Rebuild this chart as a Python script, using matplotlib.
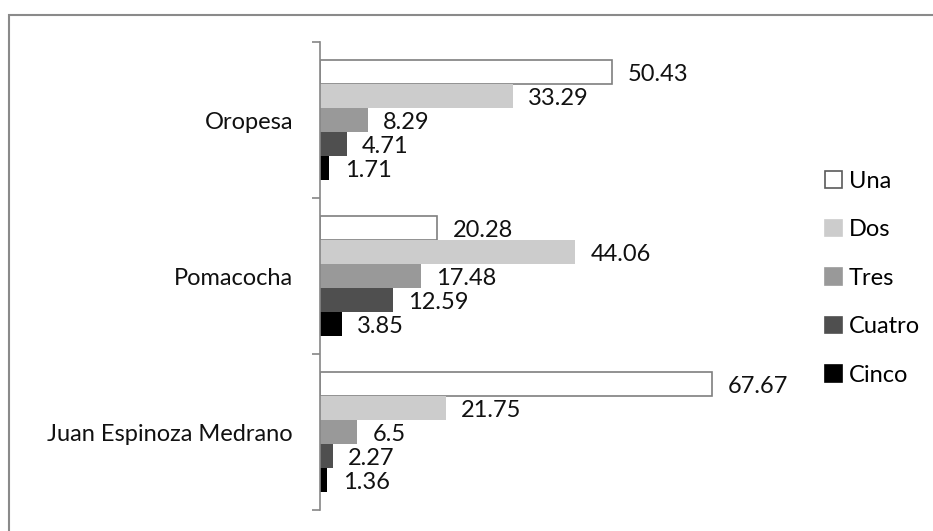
import matplotlib
matplotlib.use('Agg')
import matplotlib.pyplot as plt
from matplotlib.patches import Rectangle, Patch
import numpy as np

plt.rcParams['font.family'] = ['Lato', 'DejaVu Sans']

categories = ['Oropesa', 'Pomacocha', 'Juan Espinoza Medrano']
series = ['Una', 'Dos', 'Tres', 'Cuatro', 'Cinco']
una = [50.43, 20.28, 67.67]
dos = [33.29, 44.06, 21.75]
tres = [8.29, 17.48, 6.5]
cuatro = [4.71, 12.59, 2.27]
cinco = [1.71, 3.85, 1.36]
values = [una, dos, tres, cuatro, cinco]

fills = ['white', '#cccccc', '#999999', '#4f4f4f', '#000000']
edges = ['#7f7f7f', 'none', 'none', 'none', 'none']

W, H = 933, 531
fig = plt.figure(figsize=(W / 100, H / 100), dpi=100)

# outer chart frame, right and bottom edges run past the canvas
fig.patches.append(Rectangle((9 / W, -0.1), 1.2, 1.1 - 15 / H,
                             transform=fig.transFigure, fill=False,
                             edgecolor='#8a8a8a', linewidth=1.5))

x0, x1 = 319.5, 319.5 + 80 * 5.806
ax = fig.add_axes([x0 / W, (H - 510) / H, (x1 - x0) / W, (510 - 42) / H])

ypos = np.arange(len(categories))
bar_h = 24 / 156
for i, (name, vals) in enumerate(zip(series, values)):
    offs = (i - 2) * bar_h
    ax.barh(ypos + offs, vals, height=bar_h, color=fills[i],
            edgecolor=edges[i], linewidth=1.2, label=name)
    for y, v in zip(ypos + offs, vals):
        ax.annotate(f'{v:g}', (v, y), xytext=(11, -2), textcoords='offset points',
                    va='center', ha='left', fontsize=17, color='#111111')

ax.set_xlim(0, 80)
ax.set_ylim(2.5, -0.5)
ax.set_yticks([-0.5, 0.5, 1.5, 2.5])
ax.set_yticklabels([])
ax.set_yticks(ypos, minor=True)
ax.set_yticklabels(categories, minor=True, fontsize=17, color='#111111')
ax.tick_params(axis='y', which='minor', length=0, pad=19)
ax.tick_params(axis='y', which='major', length=6, color='#868686', width=1.2)
ax.set_xticks([])
for s in ['top', 'right', 'bottom']:
    ax.spines[s].set_visible(False)
ax.spines['left'].set_color('#868686')
ax.spines['left'].set_linewidth(1.2)

handles = [Patch(facecolor=fills[i], edgecolor='#5a5a5a' if i == 0 else fills[i],
                 linewidth=1.2, label=series[i]) for i in range(5)]
fig.legend(handles=handles, loc='upper left', bbox_to_anchor=(825 / W, 1 - 171 / H),
           frameon=False, fontsize=17, handlelength=0.7, handleheight=0.7,
           handletextpad=0.3, labelspacing=1.16, borderaxespad=0, borderpad=0)

fig.savefig('out.png', dpi=100)
